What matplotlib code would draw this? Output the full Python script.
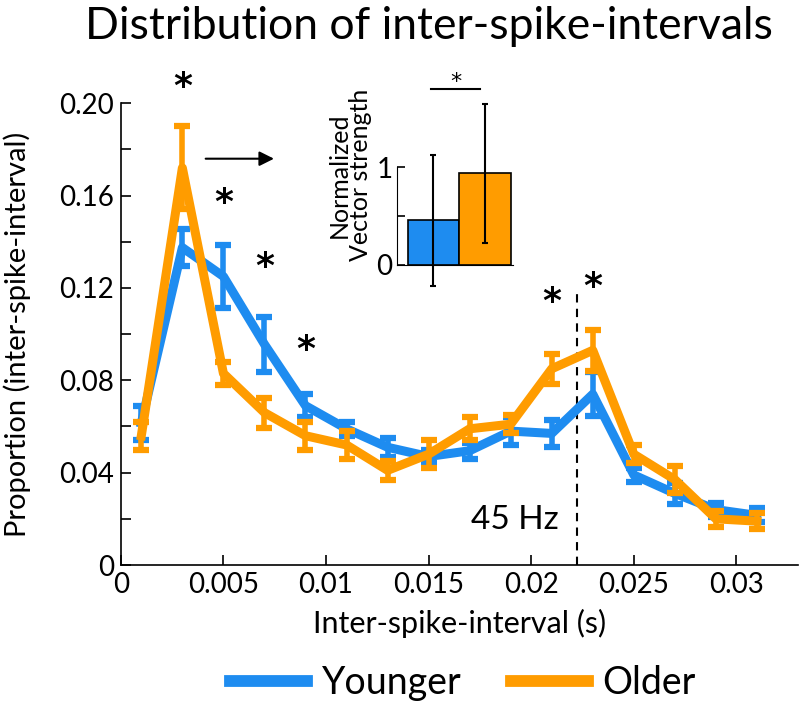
import numpy as np
import matplotlib.pyplot as plt
from matplotlib.lines import Line2D

plt.rcParams['font.family'] = ['Lato', 'DejaVu Sans']

# Data
isi = [0.001, 0.003, 0.005, 0.007, 0.009, 0.011, 0.013, 0.015,
       0.017, 0.019, 0.021, 0.023, 0.025, 0.027, 0.029, 0.031]
younger = [0.0615, 0.1375, 0.125, 0.0956, 0.069, 0.059, 0.051, 0.047,
           0.0495, 0.058, 0.057, 0.074, 0.039, 0.031, 0.024, 0.0215]
younger_err = [0.0075, 0.008, 0.0135, 0.012, 0.005, 0.003, 0.004, 0.003,
               0.0035, 0.006, 0.006, 0.0095, 0.003, 0.0045, 0.003, 0.003]
older = [0.056, 0.172, 0.083, 0.066, 0.056, 0.052, 0.041, 0.048,
         0.059, 0.061, 0.085, 0.093, 0.048, 0.037, 0.020, 0.019]
older_err = [0.006, 0.018, 0.005, 0.0065, 0.006, 0.006, 0.004, 0.006,
             0.005, 0.004, 0.0065, 0.009, 0.004, 0.006, 0.0035, 0.0035]

# significance stars (x, y)
star_x = [0.003, 0.005, 0.007, 0.009, 0.021, 0.023]
star_y = [0.207, 0.157, 0.129, 0.093, 0.114, 0.1205]

# inset: normalized vector strength
vs_groups = [0, 1]
vs_mean = [0.456, 0.936]
vs_err = [0.67, 0.71]

gamma_hz = 45

blue = '#1E8CF0'
orange = '#FF9C00'

fig = plt.figure(figsize=(8, 7.06), dpi=100)
ax = fig.add_axes([0.151, 0.1997, 0.8465, 0.654])

ax.errorbar(isi, younger, yerr=younger_err, color=blue, lw=6.5,
            elinewidth=4, capsize=6, capthick=4.5, zorder=3)
ax.errorbar(isi, older, yerr=older_err, color=orange, lw=6.5,
            elinewidth=4, capsize=6, capthick=4.5, zorder=4)

ax.plot([1 / gamma_hz, 1 / gamma_hz], [0, 0.12], color='k', lw=1.5,
        linestyle=(0, (4, 3)))
ax.text(0.0192, 0.0195, '45 Hz', fontsize=24, ha='center', va='center')

for sx, sy in zip(star_x, star_y):
    ax.text(sx, sy, '*', fontsize=26, fontweight='bold', ha='center',
            va='center', family='DejaVu Sans', clip_on=False)

ax.annotate('', xy=(0.0076, 0.176), xytext=(0.0040, 0.176),
            arrowprops=dict(arrowstyle='-|>', color='k', lw=1.5,
                            mutation_scale=22))

ax.set_xlim(0, 0.033)
ax.set_ylim(0, 0.2)
ax.set_xticks([0, 0.005, 0.01, 0.015, 0.02, 0.025, 0.03])
ax.set_xticklabels(['0', '0.005', '0.01', '0.015', '0.02', '0.025', '0.03'])
ax.set_yticks([0, 0.04, 0.08, 0.12, 0.16, 0.20])
ax.set_yticklabels(['0', '0.04', '0.08', '0.12', '0.16', '0.20'])
ax.set_yticks([0.02, 0.06, 0.10, 0.14, 0.18], minor=True)
ax.tick_params(direction='in', length=7, width=1.2, labelsize=20, pad=5)
ax.tick_params(which='minor', direction='in', length=7, width=1.2)
for s in ['top', 'right']:
    ax.spines[s].set_visible(False)
for s in ['left', 'bottom']:
    ax.spines[s].set_linewidth(1.2)

ax.set_xlabel('Inter-spike-interval (s)', fontsize=22, labelpad=8)
ax.set_ylabel('Proportion (inter-spike-interval)', fontsize=21)
ax.yaxis.set_label_coords(-0.132, 0.5)

fig.text(0.536, 0.992, 'Distribution of inter-spike-intervals', fontsize=32,
         ha='center', va='top')

handles = [Line2D([], [], color=blue, lw=8.5),
           Line2D([], [], color=orange, lw=8.5)]
fig.legend(handles, ['Younger', 'Older'], loc='center',
           bbox_to_anchor=(0.579, 0.033), ncol=2, frameon=False,
           fontsize=27, handlelength=2.05, handletextpad=0.4,
           columnspacing=1.3)

# inset
ins = fig.add_axes([0.496, 0.590, 0.145, 0.305])
ins.bar(vs_groups, vs_mean, width=1, color=[blue, orange], edgecolor='k',
        lw=1.2, zorder=2)
ins.errorbar(vs_groups, vs_mean, yerr=vs_err, fmt='none', ecolor='k',
             elinewidth=1.5, capsize=2, capthick=1.5, zorder=3, clip_on=False)
ins.plot([-0.05, 0.9], [1.80, 1.80], color='k', lw=1.5, clip_on=False)
ins.text(0.43, 1.87, '*', fontsize=16, ha='center', va='center',
         family='DejaVu Sans')
ins.set_xlim(-0.71, 1.54)
ins.set_ylim(-0.25, 1.95)
ins.spines['left'].set_bounds(0, 1)
ins.spines['bottom'].set_position(('data', 0))
for s in ['top', 'right']:
    ins.spines[s].set_visible(False)
ins.set_xticks([])
ins.set_yticks([0, 1])
ins.set_yticks([0.5], minor=True)
ins.tick_params(direction='in', length=6, width=1.2, labelsize=20, pad=3)
ins.tick_params(which='minor', direction='in', length=6, width=1.2)
ins.patch.set_alpha(0)
ins.set_ylabel('Normalized\nVector strength', fontsize=18, linespacing=0.95)
ins.yaxis.set_label_coords(-0.21, 0.53)

fig.savefig('out.png', dpi=100)
